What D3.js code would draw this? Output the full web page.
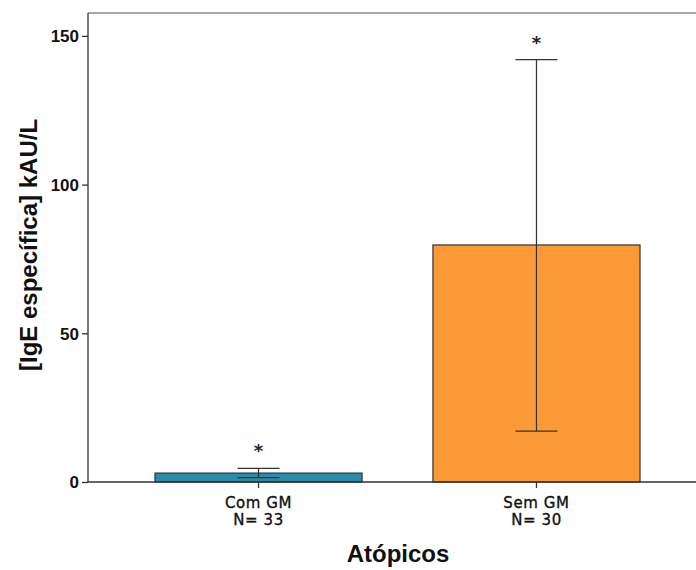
<!DOCTYPE html>
<html>
<head>
<meta charset="utf-8">
<script src="https://cdn.jsdelivr.net/npm/d3@7"></script>
<style>
  body { margin: 0; background: #fff; }
  svg { display: block; }
</style>
</head>
<body>
<div id="chart"></div>
<script>
const categories = ["Com GM", "Sem GM"];
const nLabels = ["N= 33", "N= 30"];
const means = [3.0, 79.7];
const upper = [4.6, 142.0];
const lower = [1.5, 17.1];
const barColors = ["#2a8bab", "#fd9a38"];
const yTicks = [0, 50, 100, 150];

const W = 696, H = 570;

const svg = d3.select("#chart").append("svg")
  .attr("width", W).attr("height", H);

const y = d3.scaleLinear().domain([0, 157.7]).range([482, 13]);
const x = d3.scaleBand().domain(categories).range([88, 707]).paddingInner(0.255).paddingOuter(0.241);

// top border
svg.append("line")
  .attr("x1", 88).attr("x2", W).attr("y1", 13).attr("y2", 13)
  .attr("stroke", "#888").attr("stroke-width", 1.5);

// bars
svg.selectAll(".bar").data(categories).enter().append("rect")
  .attr("x", d => x(d))
  .attr("y", (d, i) => y(means[i]))
  .attr("width", x.bandwidth())
  .attr("height", (d, i) => y(0) - y(means[i]))
  .attr("fill", (d, i) => barColors[i])
  .attr("stroke", "#333").attr("stroke-width", 1.2);

// error bars
const cap = 21;
categories.forEach((c, i) => {
  const cx = x(c) + x.bandwidth() / 2;
  const g = svg.append("g").attr("stroke", "#333").attr("stroke-width", 1.2);
  g.append("line").attr("x1", cx).attr("x2", cx).attr("y1", y(upper[i])).attr("y2", y(lower[i]));
  g.append("line").attr("x1", cx - cap).attr("x2", cx + cap).attr("y1", y(upper[i])).attr("y2", y(upper[i]));
  g.append("line").attr("x1", cx - cap).attr("x2", cx + cap).attr("y1", y(lower[i])).attr("y2", y(lower[i]));
  svg.append("text")
    .attr("x", cx).attr("y", y(upper[i]) - 11)
    .attr("text-anchor", "middle")
    .style("font-family", "DejaVu Sans, sans-serif")
    .style("font-size", "18px").style("font-weight", "bold")
    .attr("fill", "#222")
    .text("*");
});

// y axis
const yAxis = d3.axisLeft(y).tickValues(yTicks).tickSize(6).tickSizeOuter(0);
const ya = svg.append("g").attr("transform", "translate(88,0)").call(yAxis);
ya.select(".domain").attr("d", `M0,${y(0)}V13`).attr("stroke", "#333").attr("stroke-width", 1.3);
ya.selectAll(".tick line").attr("stroke", "#333").attr("stroke-width", 1.3);
ya.selectAll(".tick text")
  .style("font-family", "Liberation Sans, Arial, sans-serif")
  .style("font-size", "17px").style("font-weight", "bold")
  .attr("fill", "#111").attr("x", -9).attr("dy", "0.34em");

// x axis baseline
svg.append("line")
  .attr("x1", 88).attr("x2", W).attr("y1", y(0)).attr("y2", y(0))
  .attr("stroke", "#333").attr("stroke-width", 1.3);

const xa = svg.append("g").attr("transform", `translate(0,${y(0)})`)
  .call(d3.axisBottom(x).tickSize(6).tickSizeOuter(0).tickFormat(""));
xa.select(".domain").remove();
xa.selectAll(".tick line").attr("stroke", "#333").attr("stroke-width", 1.3);

categories.forEach((c, i) => {
  const cx = x(c) + x.bandwidth() / 2;
  const t = svg.append("text")
    .attr("text-anchor", "middle")
    .style("font-family", "DejaVu Sans, sans-serif")
    .style("font-size", "15px")
    .attr("fill", "#111")
    .attr("stroke", "#111").attr("stroke-width", 0.35)
    .attr("letter-spacing", "0.6px");
  t.append("tspan").attr("x", cx).attr("y", 508).text(c);
  t.append("tspan").attr("x", cx).attr("y", 525).text(nLabels[i]);
});

// axis titles
svg.append("text")
  .attr("x", 398).attr("y", 562)
  .attr("text-anchor", "middle")
  .style("font-family", "Liberation Sans, Arial, sans-serif")
  .style("font-size", "24px").style("font-weight", "bold")
  .attr("fill", "#111")
  .text("Atópicos");

svg.append("text")
  .attr("transform", "translate(37,245) rotate(-90)")
  .attr("text-anchor", "middle")
  .style("font-family", "Liberation Sans, Arial, sans-serif")
  .style("font-size", "24px").style("font-weight", "bold")
  .attr("fill", "#111")
  .text("[IgE específica] kAU/L");
</script>
</body>
</html>
